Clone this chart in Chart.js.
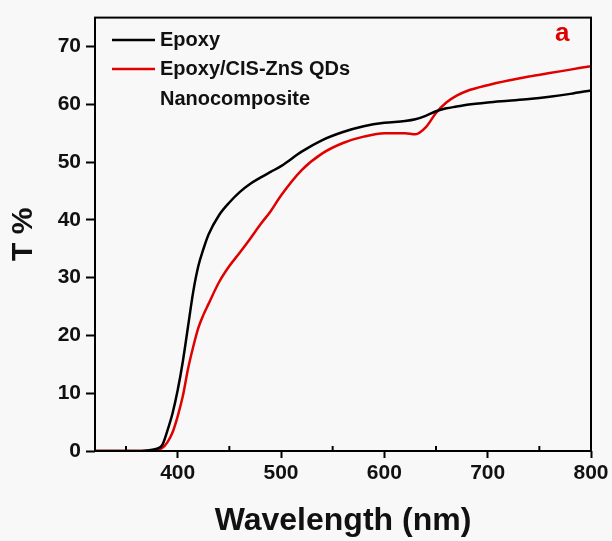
<!DOCTYPE html>
<html>
<head>
<meta charset="utf-8">
<script src="https://cdn.jsdelivr.net/npm/chart.js@4"></script>
<style>
  html, body { margin: 0; padding: 0; background: #f8f8f8; }
  #wrap { width: 612px; height: 541px; }
</style>
</head>
<body>
<div id="wrap"><canvas id="grafico" width="612" height="541"></canvas></div>
<script>
// Longitudes de onda (nm)
const longitudes = [320, 340, 360, 370, 380, 385, 390, 395, 400, 405, 410, 415, 420, 425, 430, 440, 450, 460, 470, 480, 490, 500, 520, 540, 560, 580, 600, 620, 630, 640, 650, 660, 670, 680, 700, 720, 740, 760, 780, 800];

// Transmitancia (%) de cada muestra
const epoxy = [0, 0, 0, 0.1, 0.4, 1.0, 3.5, 6.5, 10.5, 15.5, 21.5, 27.5, 32, 35, 37.5, 40.8, 43, 44.8, 46.2, 47.3, 48.3, 49.3, 51.8, 53.8, 55.2, 56.2, 56.8, 57.1, 57.4, 58.0, 58.8, 59.3, 59.6, 59.9, 60.3, 60.6, 60.9, 61.3, 61.8, 62.4];
const nanocompuesto = [0, 0, 0, 0, 0.2, 0.5, 1.5, 3.2, 6, 9.5, 14.2, 18, 21.3, 23.6, 25.5, 29.2, 32, 34.3, 36.7, 39.2, 41.5, 44.2, 48.6, 51.5, 53.3, 54.4, 55, 55, 54.8, 56, 58.5, 60.3, 61.5, 62.3, 63.3, 64.1, 64.8, 65.4, 66.0, 66.6];

// Etiquetas de los ejes
const ticksX = [400, 500, 600, 700, 800];
const ticksXMenores = [350, 450, 550, 650, 750];
const ticksY = [0, 10, 20, 30, 40, 50, 60, 70];

const fuente = "'Liberation Sans', Arial, sans-serif";

function aPuntos(ys) {
  return longitudes.map((x, i) => ({ x: x, y: ys[i] }));
}

// Marco, ticks menores, leyenda y la letra "a"
const decoracion = {
  id: "decoracion",
  afterDraw(chart) {
    const ctx = chart.ctx;
    const area = chart.chartArea;
    const sx = chart.scales.x;
    ctx.save();
    ctx.strokeStyle = "#000";
    ctx.lineWidth = 2;
    ctx.strokeRect(area.left, area.top, area.right - area.left, area.bottom - area.top);

    ticksXMenores.forEach((v) => {
      const px = sx.getPixelForValue(v);
      ctx.beginPath();
      ctx.moveTo(px, area.bottom);
      ctx.lineTo(px, area.bottom - 5);
      ctx.stroke();
    });

    // Leyenda
    ctx.font = "bold 20px " + fuente;
    ctx.textBaseline = "middle";
    ctx.fillStyle = "#111";
    const filas = [
      { color: "#000", lineas: ["Epoxy"], y: 40 },
      { color: "#e00000", lineas: ["Epoxy/CIS-ZnS QDs", "Nanocomposite"], y: 69 },
    ];
    filas.forEach((f) => {
      ctx.strokeStyle = f.color;
      ctx.lineWidth = 2.5;
      ctx.beginPath();
      ctx.moveTo(112, f.y);
      ctx.lineTo(155, f.y);
      ctx.stroke();
      f.lineas.forEach((t, i) => ctx.fillText(t, 160, f.y + i * 30));
    });

    ctx.fillStyle = "#e00000";
    ctx.font = "bold 26px " + fuente;
    ctx.fillText("a", 555, 34);
    ctx.restore();
  },
};

new Chart(document.getElementById("grafico"), {
  type: "line",
  data: {
    datasets: [
      {
        label: "Epoxy",
        data: aPuntos(epoxy),
        borderColor: "#000",
        borderWidth: 2.5,
        pointRadius: 0,
        cubicInterpolationMode: "monotone",
      },
      {
        label: "Epoxy/CIS-ZnS QDs Nanocomposite",
        data: aPuntos(nanocompuesto),
        borderColor: "#e00000",
        borderWidth: 2.5,
        pointRadius: 0,
        cubicInterpolationMode: "monotone",
      },
    ],
  },
  options: {
    responsive: false,
    animation: false,
    layout: { padding: { top: 14, right: 21, left: 0, bottom: 0 } },
    plugins: { legend: { display: false }, tooltip: { enabled: false } },
    scales: {
      x: {
        type: "linear",
        min: 320,
        max: 800,
        afterBuildTicks: (s) => { s.ticks = ticksX.map((v) => ({ value: v })); },
        afterFit: (s) => { s.height = 90; },
        border: { display: false },
        grid: { drawOnChartArea: false, tickLength: 7, tickWidth: 2, tickColor: "#000" },
        ticks: { color: "#111", padding: 3, font: { family: fuente, size: 21, weight: "bold" } },
        title: {
          display: true,
          text: "Wavelength (nm)",
          color: "#111",
          padding: { top: 0, bottom: 1 },
          font: { family: fuente, size: 32, weight: "bold" },
        },
      },
      y: {
        min: 0,
        max: 75,
        afterBuildTicks: (s) => { s.ticks = ticksY.map((v) => ({ value: v })); },
        afterFit: (s) => { s.width = 95; },
        border: { display: false },
        grid: { drawOnChartArea: false, tickLength: 9, tickWidth: 2, tickColor: "#000" },
        ticks: { color: "#111", padding: 5, font: { family: fuente, size: 21, weight: "bold" } },
        title: {
          display: true,
          text: "T %",
          color: "#111",
          padding: { top: 6, bottom: 0 },
          font: { family: fuente, size: 30, weight: "bold" },
        },
      },
    },
  },
  plugins: [decoracion],
});
</script>
</body>
</html>
